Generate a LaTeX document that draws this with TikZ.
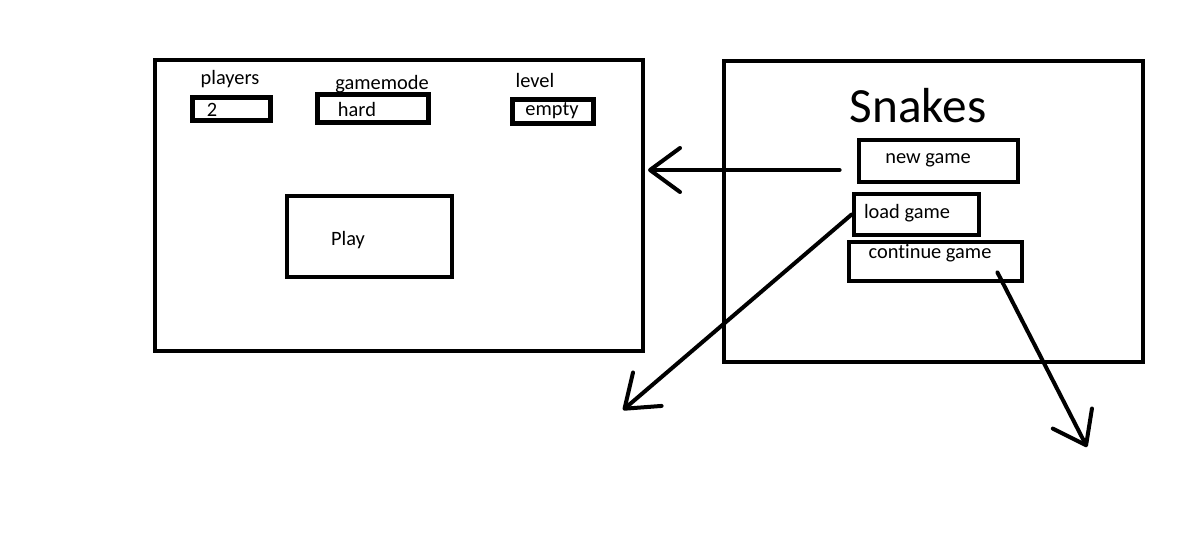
\documentclass[tikz,border=0pt]{standalone}
\usepackage{fontspec}
\setmainfont{Carlito}[Ligatures=NoCommon]
\usetikzlibrary{arrows.meta,fit}

\begin{document}
\begin{tikzpicture}[x=0.025cm,y=-0.025cm,
    frame/.style={draw,line width=0.1cm,inner sep=0pt},
    field/.style={draw,line width=0.12cm,inner sep=0pt},
    lbl/.style={font=\fontsize{14.5}{16}\selectfont,inner sep=0pt,anchor=base},
    arr/.style={line width=0.1cm,line cap=round,-{Straight Barb[length=0.75cm,width=1.1cm,round]}}]
    \useasboundingbox (0,0) rectangle (1186,555);

    \node [frame, fit={(154.5,59.5) (642.5,351)}] (setup) {};
    \node [field, fit={(192.5,97.5) (270.5,120.5)}] (players) {};
    \node [field, fit={(317.5,94.5) (428.5,122.5)}] (gamemode) {};
    \node [field, fit={(512.5,99.5) (593.5,123.5)}] (level) {};
    \node [field, fit={(287,196) (452,277)}] (play) {};

    \node [lbl] (playerslbl) at (230,84) {players};
    \node [lbl] (gamemodelbl) at (382,89) {gamemode};
    \node [lbl] (levellbl) at (535,87) {level};
    \node [lbl] (playersval) at (212,116) {2};
    \node [lbl] (gamemodeval) at (357,116) {hard};
    \node [lbl] (levelval) at (552,115) {empty};
    \node [lbl] (playlbl) at (348,245) {Play};

    \node [frame, fit={(724,61) (1143,362)}] (menu) {};
    \node [lbl, font=\fontsize{35}{40}\selectfont] (title) at (918,122) {Snakes};
    \node [field, fit={(859,140) (1018,182)}] (newgame) {};
    \node [field, fit={(854,194) (979,235)}] (loadgame) {};
    \node [field, fit={(849,242) (1022,281)}] (continuegame) {};
    \node [lbl] (newgamelbl) at (928,163) {new game};
    \node [lbl] (loadgamelbl) at (907,218) {load game};
    \node [lbl] (continuegamelbl) at (930,258) {continue game};

    \coordinate (tosetup) at (648,170);
    \coordinate (toload) at (623,410);
    \coordinate (tocontinue) at (1087,447);

    \draw [arr] ([shift={(-17,9)}]newgame.west) -- (tosetup);
    \draw [arr] (loadgame.west) -- (toload);
    \draw [arr] ([shift={(-27,-11)}]continuegame.south east) -- (tocontinue);
\end{tikzpicture}
\end{document}
